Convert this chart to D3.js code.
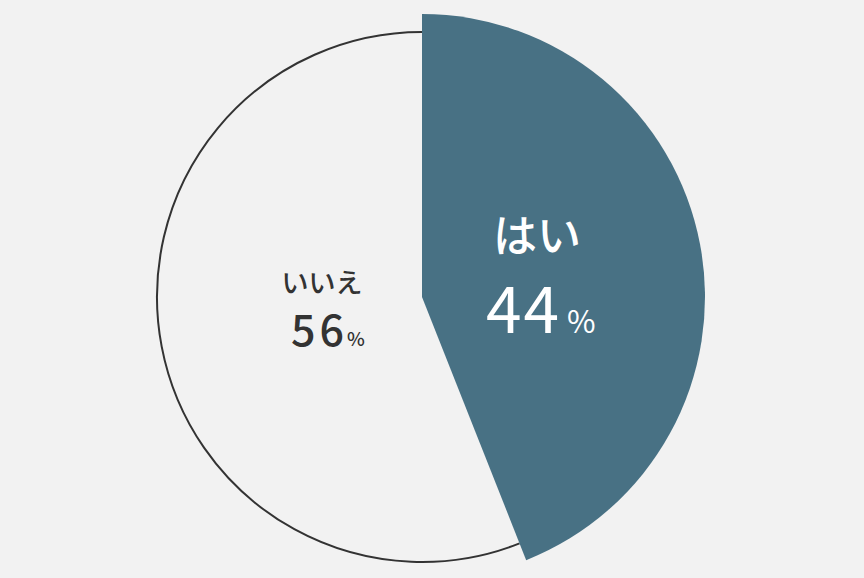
<!DOCTYPE html>
<html><head><meta charset="utf-8">
<script src="https://cdn.jsdelivr.net/npm/d3@7"></script>
<style>
html,body{margin:0;padding:0;background:#f2f2f2;}
svg{display:block;}
text{font-family:"Noto Sans CJK JP","Noto Sans",sans-serif;}
</style></head>
<body>
<svg id="c" width="864" height="578"></svg>
<script>
const categories = ["はい", "いいえ"];
const values = [44, 56];
const percentLabels = ["44", "56"];

const W = 864, H = 578;
const cx = 422, cy = 297;
const rBase = 265, rHighlight = 283;

const svg = d3.select("#c");
svg.append("rect").attr("width", W).attr("height", H).attr("fill", "#f2f2f2");

const data = categories.map((c, i) => ({cat: c, value: values[i], pct: percentLabels[i], idx: i}));
const pie = d3.pie().value(d => d.value).sort(null);
const arcs = pie(data);

const g = svg.append("g").attr("transform", `translate(${cx},${cy})`);

const arcBase = d3.arc().innerRadius(0).outerRadius(rBase);
const arcHi = d3.arc().innerRadius(0).outerRadius(rHighlight);
const outlineArc = d3.arc().innerRadius(rBase).outerRadius(rBase);

g.append("path").datum(arcs[1])
  .attr("d", arcBase)
  .attr("fill", "#f2f2f2");
g.append("path").datum(arcs[1])
  .attr("d", d => outlineArc(d))
  .attr("fill", "none")
  .attr("stroke", "#333333")
  .attr("stroke-width", 2);

g.append("path").datum(arcs[0])
  .attr("d", arcHi)
  .attr("fill", "#487184");

// labels
const lab = [
  {name: {x: 537, y: 252, size: 44, w: 500, fill: "#ffffff"}, num: {x: 486, y: 333, size: 64, ls: 2, w: 400, fill: "#ffffff"}, pctSize: 31, pctGap: 6},
  {name: {x: 322, y: 293, size: 27, w: 500, fill: "#333333"}, num: {x: 291, y: 346, size: 43, ls: 4, w: 500, fill: "#333333"}, pctSize: 19, pctGap: -1}
];
arcs.forEach((a, i) => {
  const L = lab[i];
  svg.append("text")
    .attr("x", L.name.x).attr("y", L.name.y)
    .attr("text-anchor", "middle")
    .attr("font-size", L.name.size)
    .attr("font-weight", L.name.w)
    .attr("fill", L.name.fill)
    .text(a.data.cat);
  const t = svg.append("text")
    .attr("x", L.num.x).attr("y", L.num.y)
    .attr("fill", L.num.fill)
    .attr("font-weight", L.num.w);
  t.append("tspan").attr("font-size", L.num.size).attr("letter-spacing", L.num.ls).text(a.data.pct);
  t.append("tspan").attr("font-size", L.pctSize).attr("dx", L.pctGap).text("%");
});
</script>
</body></html>
